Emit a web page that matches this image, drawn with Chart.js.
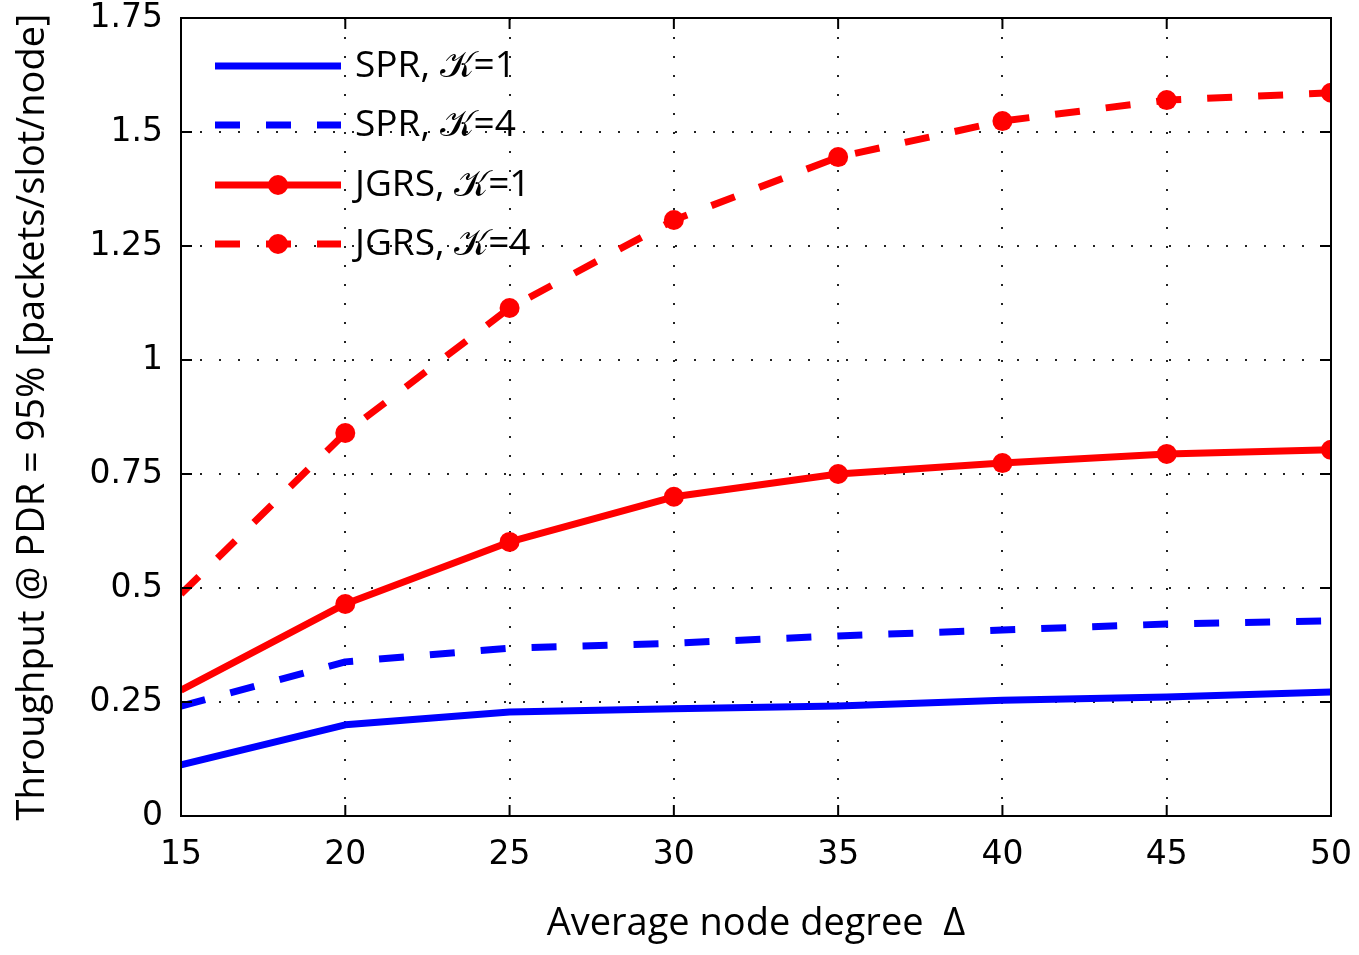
<!DOCTYPE html>
<html>
<head>
<meta charset="utf-8">
<script src="https://cdn.jsdelivr.net/npm/chart.js@4/dist/chart.umd.min.js"></script>
<style>
  html, body { margin: 0; padding: 0; background: #fff; }
  #wrap { width: 1359px; height: 955px; }
</style>
</head>
<body>
<div id="wrap"><canvas id="chart"></canvas></div>
<script>
// average node degree
const degrees = [15, 20, 25, 30, 35, 40, 45, 50];

// throughput @ PDR = 95%
const sprK1  = [0.112, 0.200, 0.228, 0.235, 0.241, 0.254, 0.261, 0.272];
const sprK4  = [0.241, 0.338, 0.368, 0.379, 0.395, 0.408, 0.421, 0.428];
const jgrsK1 = [0.276, 0.465, 0.601, 0.700, 0.750, 0.774, 0.794, 0.803];
const jgrsK4 = [0.487, 0.840, 1.114, 1.307, 1.445, 1.524, 1.570, 1.586];

const seriesLabels = ['SPR, \u{1D4A6}=1', 'SPR, \u{1D4A6}=4', 'JGRS, \u{1D4A6}=1', 'JGRS, \u{1D4A6}=4'];
const yTicks = [0, 0.25, 0.5, 0.75, 1, 1.25, 1.5, 1.75];

const FONT = '"Open Sans", "DejaVu Sans", sans-serif';
const TICK_FONT = '"DejaVu Sans", sans-serif';
const DASH = [25, 26];

function toPoints(vals) {
  return vals.map((v, i) => ({ x: degrees[i], y: v }));
}

// first sample has no marker on the JGRS curves
const markerRadius = degrees.map((d, i) => (i === 0 ? 0 : 10));

// MATLAB-like box, inward ticks and a line+marker legend
const boxPlugin = {
  id: 'boxPlugin',
  afterDraw(chart) {
    const { ctx, chartArea: a, scales } = chart;
    ctx.save();
    ctx.strokeStyle = '#000';
    ctx.lineWidth = 2;
    ctx.strokeRect(a.left, a.top, a.right - a.left, a.bottom - a.top);

    const tl = 11;
    ctx.beginPath();
    degrees.forEach(d => {
      const x = scales.x.getPixelForValue(d);
      ctx.moveTo(x, a.bottom); ctx.lineTo(x, a.bottom - tl);
      ctx.moveTo(x, a.top); ctx.lineTo(x, a.top + tl);
    });
    yTicks.forEach(v => {
      const y = scales.y.getPixelForValue(v);
      ctx.moveTo(a.left, y); ctx.lineTo(a.left + tl, y);
      ctx.moveTo(a.right, y); ctx.lineTo(a.right - tl, y);
    });
    ctx.stroke();

    // legend
    const lx0 = a.left + 34, lx1 = a.left + 160, tx = a.left + 174;
    const rowY = [66, 125, 185, 244];
    chart.data.datasets.forEach((ds, i) => {
      const y = rowY[i];
      ctx.strokeStyle = ds.borderColor;
      ctx.lineWidth = ds.borderWidth;
      ctx.setLineDash(ds.borderDash || []);
      ctx.beginPath();
      ctx.moveTo(lx0, y); ctx.lineTo(lx1, y);
      ctx.stroke();
      ctx.setLineDash([]);
      if (ds.showMarker) {
        ctx.fillStyle = ds.borderColor;
        ctx.beginPath();
        ctx.arc((lx0 + lx1) / 2, y, 10, 0, Math.PI * 2);
        ctx.fill();
      }
      ctx.fillStyle = '#000';
      ctx.font = '37px ' + FONT;
      ctx.textBaseline = 'middle';
      ctx.textAlign = 'left';
      ctx.fillText(ds.label, tx, y);
    });
    ctx.restore();
  }
};

const ctx = document.getElementById('chart').getContext('2d');
new Chart(ctx, {
  type: 'line',
  data: {
    datasets: [
      { label: seriesLabels[0], data: toPoints(sprK1), borderColor: '#0000ff', borderWidth: 7, pointRadius: 0 },
      { label: seriesLabels[1], data: toPoints(sprK4), borderColor: '#0000ff', borderWidth: 7, borderDash: DASH, pointRadius: 0 },
      { label: seriesLabels[2], data: toPoints(jgrsK1), borderColor: '#ff0000', backgroundColor: '#ff0000', borderWidth: 7,
        pointRadius: markerRadius, pointBorderWidth: 0, showMarker: true },
      { label: seriesLabels[3], data: toPoints(jgrsK4), borderColor: '#ff0000', backgroundColor: '#ff0000', borderWidth: 7, borderDash: DASH,
        pointRadius: markerRadius, pointBorderWidth: 0, showMarker: true },
    ],
  },
  options: {
    responsive: true,
    maintainAspectRatio: false,
    animation: false,
    layout: { padding: { top: 18, right: 28, bottom: 0, left: 0 } },
    plugins: { legend: { display: false }, tooltip: { enabled: false } },
    elements: { line: { tension: 0, borderCapStyle: 'butt', borderJoinStyle: 'round' } },
    scales: {
      x: {
        type: 'linear',
        min: 15, max: 50,
        afterFit: s => { s.height = 139; s.paddingLeft = 0; s.paddingRight = 0; },
        ticks: { stepSize: 5, padding: 20, color: '#000', font: { family: TICK_FONT, size: 33 } },
        grid: { color: '#222', lineWidth: 2, drawTicks: false },
        border: { display: false, dash: [2, 17] },
        title: { display: true, text: 'Average node degree  \u0394', color: '#000',
          font: { family: FONT, size: 38 }, padding: { top: 0, bottom: 8 } },
      },
      y: {
        min: 0, max: 1.75,
        afterFit: s => { s.width = 181; s.paddingTop = 0; s.paddingBottom = 0; },
        afterBuildTicks: s => { s.ticks = yTicks.map(v => ({ value: v })); },
        ticks: { padding: 18, color: '#000', font: { family: TICK_FONT, size: 33 },
          callback: v => String(v) },
        grid: { color: '#222', lineWidth: 2, drawTicks: false },
        border: { display: false, dash: [2, 17] },
        title: { display: true, text: 'Throughput @ PDR = 95% [packets/slot/node]', color: '#000',
          font: { family: FONT, size: 38 }, padding: { top: 10, bottom: 0 } },
      },
    },
  },
  plugins: [boxPlugin],
});
</script>
</body>
</html>
